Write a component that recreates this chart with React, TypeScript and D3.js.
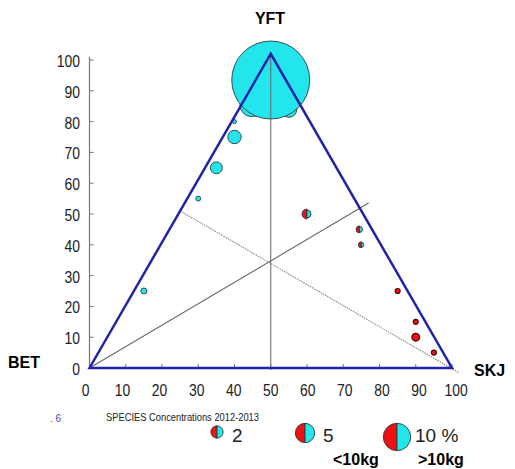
import React from 'react';
import * as d3 from 'd3';

// species composition per sample (ternary, %)
const yftPct = [93.5, 85.5, 84, 80, 75, 65, 55, 25, 50, 45, 40, 25, 15, 10, 5];
const skjPct = [3.25, 2.05, 13, 0, 2.5, 2.5, 2.5, 2.5, 35, 52, 55, 72.5, 82.5, 85, 92.5];
// bubble sizes (% of catch) for <10kg and >10kg fish
const smallPct = [0, 0, 0, 0, 0, 0, 0, 0, 1.33, 0.65, 0.48, 0.33, 0.33, 0.8, 0.33];
const largePct = [81, 7.7, 3.4, 0.21, 2.4, 1.9, 0.33, 0.48, 0.85, 0.48, 0.33, 0, 0, 0, 0];

const axisTicks = [0, 10, 20, 30, 40, 50, 60, 70, 80, 90, 100];
const legendSizes = [2, 5, 10];
const legendLabels = ['2', '5', '10 %'];

const W = 515;
const H = 469;
const APEX = 102; // drawn apex height

const CYAN = '#22e6ec';
const RED = '#ee1111';
const BLUE = '#2222aa';
const SANS = '"Liberation Sans", Arial, sans-serif';

function Bubble({ cx, cy, rs, rl }: { cx: number; cy: number; rs: number; rl: number }) {
  const stroke = '#2b3b3b';
  if (rs === 0 || rl === 0) {
    const r = rs || rl;
    return <circle cx={cx} cy={cy} r={r} fill={rs ? RED : CYAN} stroke={rs ? '#4a0808' : stroke} strokeWidth={rs ? 1.2 : 0.9} />;
  }
  const leftArc = d3.arc()({ innerRadius: 0, outerRadius: rs, startAngle: Math.PI, endAngle: 2 * Math.PI } as any) as string;
  const rightArc = d3.arc()({ innerRadius: 0, outerRadius: rl, startAngle: 0, endAngle: Math.PI } as any) as string;
  return (
    <g transform={`translate(${cx},${cy})`}>
      <path d={leftArc} fill={RED} stroke={stroke} strokeWidth={0.9} />
      <path d={rightArc} fill={CYAN} stroke={stroke} strokeWidth={0.9} />
    </g>
  );
}

// narrow tick text: squeeze Liberation Sans horizontally
function Narrow({ x, y, anchor, size, children }: any) {
  return (
    <text
      transform={`translate(${x},${y}) scale(0.82,1)`}
      textAnchor={anchor}
      fontFamily={SANS}
      fontSize={size}
      fill="#222"
    >
      {children}
    </text>
  );
}

export default function App() {
  const x = d3.scaleLinear().domain([0, 100]).range([89.5, 452]);
  const y = d3.scaleLinear().domain([0, 100]).range([368, 60]);
  const size = d3.scaleSqrt().domain([0, 10]).range([0, 13.7]);

  const pts = yftPct.map((yft, i) => ({
    px: skjPct[i] + yft / 2,
    py: yft,
    rs: size(smallPct[i]),
    rl: size(largePct[i]),
  }));
  const ordered = [...pts].sort((a, b) => Math.max(a.rs, a.rl) - Math.max(b.rs, b.rl));

  const legendX = [217, 305, 397];
  const legendY = [432, 433, 437];
  const legendTextX = [232, 323, 415];

  return (
    <svg width={W} height={H} style={{ position: 'absolute', left: 0, top: 0, background: '#fff' }}>
      {/* y axis */}
      <line x1={x(0)} x2={x(0)} y1={y(0)} y2={y(101)} stroke="#777" strokeWidth={1.2} />
      {axisTicks.map(t => (
        <g key={'y' + t}>
          <line x1={x(0)} x2={x(0) + 4} y1={y(t)} y2={y(t)} stroke="#777" />
          <Narrow x={80} y={y(t) + 7} anchor="end" size={17}>{t}</Narrow>
        </g>
      ))}
      {/* x axis */}
      <line x1={x(0)} x2={x(100)} y1={y(0)} y2={y(0)} stroke="#777" />
      {axisTicks.map(t => (
        <g key={'x' + t}>
          <line x1={x(t)} x2={x(t)} y1={y(0)} y2={y(0) - 4} stroke="#777" />
          <Narrow x={x(t) - 4 + t * 0.08} y={396} anchor="middle" size={17}>{t}</Narrow>
        </g>
      ))}

      {/* bubbles */}
      {ordered.map((p, i) => (
        <Bubble key={i} cx={x(p.px)} cy={y(p.py)} rs={p.rs} rl={p.rl} />
      ))}

      {/* guide lines */}
      <line x1={x(50)} x2={x(50)} y1={y(0) + 2} y2={y(APEX)} stroke="#666" strokeWidth={1} />
      <line x1={x(0)} x2={x(77)} y1={y(0)} y2={y(APEX * 0.525)} stroke="#666" strokeWidth={1.1} />
      <line x1={x(25)} x2={x(102)} y1={y(APEX / 2)} y2={y(-1.6)} stroke="#888" strokeWidth={1.1} strokeDasharray="1.5 1" />

      {/* triangle */}
      <path
        d={`M${x(0)},${y(0)}L${x(50)},${y(APEX)}L${x(100)},${y(0)}Z`}
        fill="none"
        stroke={BLUE}
        strokeWidth={2.5}
      />

      {/* corner labels */}
      <text x={270} y={24} textAnchor="middle" fontFamily={SANS} fontWeight="bold" fontSize={16}>YFT</text>
      <text x={8} y={368} fontFamily={SANS} fontWeight="bold" fontSize={16}>BET</text>
      <text x={474} y={376} fontFamily={SANS} fontWeight="bold" fontSize={16}>SKJ</text>

      {/* legend */}
      <text x={50} y={422} fontFamily={SANS} fontSize={10} fill="#4a4aa8">. 6</text>
      <text x={106} y={421} fontFamily={SANS} fontSize={11} fill="#222" textLength={153} lengthAdjust="spacingAndGlyphs">SPECIES Concentrations   2012-2013</text>
      {legendSizes.map((v, i) => (
        <g key={'l' + v}>
          <Bubble cx={legendX[i]} cy={legendY[i]} rs={size(v)} rl={size(v)} />
          <text x={legendTextX[i]} y={442} fontFamily={SANS} fontSize={19} fill="#222">{legendLabels[i]}</text>
        </g>
      ))}
      <text x={333} y={465} fontFamily={SANS} fontWeight="bold" fontSize={16}>&lt;10kg</text>
      <text x={418} y={465} fontFamily={SANS} fontWeight="bold" fontSize={16}>&gt;10kg</text>
    </svg>
  );
}
